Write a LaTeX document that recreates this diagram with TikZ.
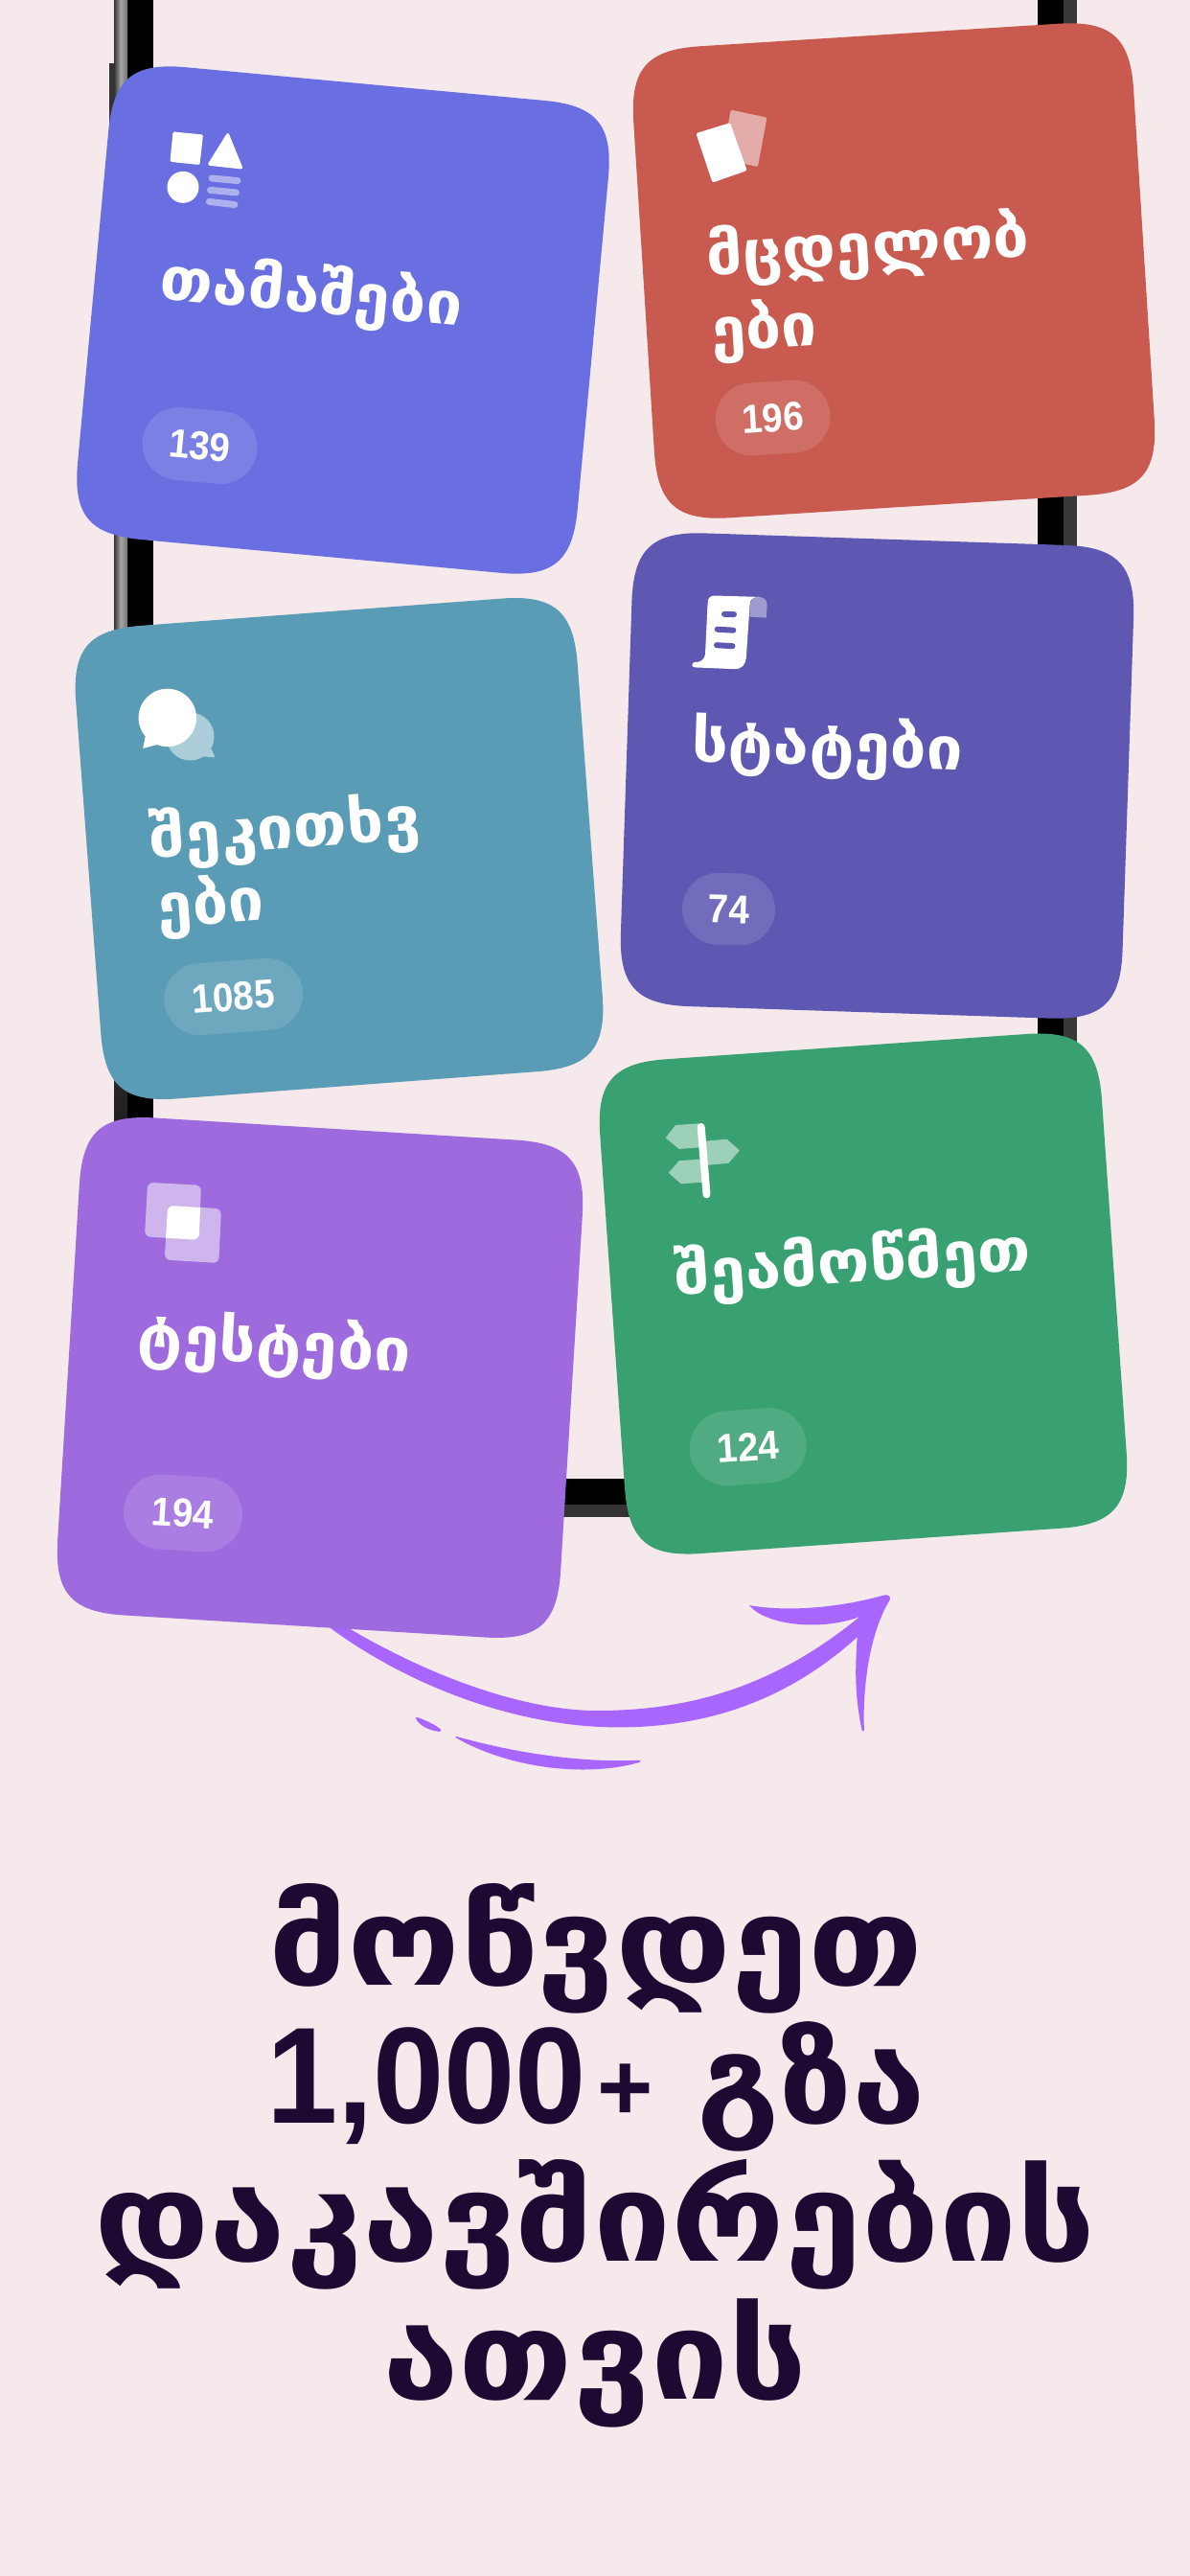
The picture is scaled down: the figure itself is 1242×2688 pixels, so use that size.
\documentclass[tikz,border=0pt]{standalone}
\usepackage{graphicx}
\usepackage{fontspec}
\newfontfamily\geof{DejaVu Sans}
\newfontfamily\numf{Liberation Sans}
\definecolor{bgc}{HTML}{F5E9EC}
\definecolor{c1}{HTML}{696FE0}
\definecolor{c2}{HTML}{C85A50}
\definecolor{c3}{HTML}{5A9CB5}
\definecolor{c4}{HTML}{5E58B3}
\definecolor{c5}{HTML}{9D6BDE}
\definecolor{c6}{HTML}{39A071}
\definecolor{titlec}{HTML}{1D0A33}
\definecolor{arrowc}{HTML}{A966FF}
\newcommand\fitw[2]{\resizebox{#1pt}{\height}{#2}}
% card: cx cy w h angle colour
\newcommand\card[6]{%
  \begin{scope}[shift={(#1,#2)},rotate=#5]
    \pgfmathsetmacro\hw{#3/2}\pgfmathsetmacro\hh{#4/2}
    \pgfmathsetmacro\dd{74}\pgfmathsetmacro\kk{19}
    \fill[#6] (-\hw+\dd,-\hh) -- (\hw-\dd,-\hh)
      .. controls (\hw-\kk,-\hh) and (\hw,-\hh+\kk) .. (\hw,-\hh+\dd)
      -- (\hw,\hh-\dd)
      .. controls (\hw,\hh-\kk) and (\hw-\kk,\hh) .. (\hw-\dd,\hh)
      -- (-\hw+\dd,\hh)
      .. controls (-\hw+\kk,\hh) and (-\hw,\hh-\kk) .. (-\hw,\hh-\dd)
      -- (-\hw,-\hh+\dd)
      .. controls (-\hw,-\hh+\kk) and (-\hw+\kk,-\hh) .. (-\hw+\dd,-\hh) -- cycle;
  \end{scope}}
% pill: name cx cy w h angle colour text
\newcommand\pill[8]{%
  \begin{scope}[shift={(#2,#3)},rotate=#6]
    \pgfmathsetmacro\hw{#4/2}\pgfmathsetmacro\hh{#5/2}
    \fill[#7,rounded corners=\hh pt] (-\hw,-\hh) rectangle (\hw,\hh);
  \end{scope}
  \node[numlabel,rotate=#6] (#1) at (#2,#3) {\scalebox{.92}[1]{#8}};}
\tikzset{
  numlabel/.style={text=white,inner sep=0pt,font=\numf\bfseries\fontsize{42}{42}\selectfont},
  cardlabel/.style={text=white,inner sep=0pt,anchor=base west,font=\geof\bfseries\fontsize{62}{62}\selectfont},
  titleline/.style={text=titlec,inner sep=0pt,anchor=base,font=\geof\bfseries\fontsize{128}{128}\selectfont},
  titlenum/.style={text=titlec,inner sep=0pt,font=\numf\bfseries\fontsize{143}{143}\selectfont},
  bar/.style={line cap=round,line width=7pt},
}
\begin{document}
\begin{tikzpicture}[x=1pt,y=-1pt]
\useasboundingbox (0,0) rectangle (1242,2688);
\fill[bgc] (0,0) rectangle (1242,2688);
% phone frame
\fill[black] (133,0) rectangle (160,1200);
\fill[left color=black!80,right color=black!55,middle color=black!35] (119,0) rectangle (133,700);
\shade[top color=black!55,bottom color=black!90] (119,700) rectangle (133,1200);
\fill[black!80] (114,66) rectangle (119,160);
\fill[black] (1083,0) rectangle (1110,1120);
\fill[black!78] (1110,0) rectangle (1124,1120);
\fill[black] (560,1543) rectangle (700,1570);
\fill[black!80] (560,1570) rectangle (700,1583);
% arrow
\fill[arrowc] (345,1687.5) .. controls (440,1746.9) and (540,1782.6) .. (615.7,1784.9)
  .. controls (720,1786.5) and (810,1758.8) .. (897.6,1686.7)
  .. controls (860,1701.8) and (800,1697) .. (781.9,1675)
  .. controls (825,1682.8) and (880,1676.4) .. (920.8,1665)
  .. controls (926,1663) and (931,1665.3) .. (928.4,1670)
  .. controls (908,1703.4) and (900,1758.8) .. (901.9,1806)
  -- (899.8,1806)
  .. controls (891,1766.7) and (893,1735) .. (894.7,1708.3)
  .. controls (830,1766.7) and (750,1802.4) .. (645.1,1802.4)
  .. controls (540,1802.4) and (420,1758.8) .. (330,1687.5) -- cycle;
\fill[arrowc] (434.7,1791.7) .. controls (445,1795.2) and (455,1800) .. (460.4,1805)
  -- (459,1807) .. controls (447,1805.5) and (438,1800.8) .. (434,1793.3) -- cycle;
\fill[arrowc] (475.5,1811.7) .. controls (540,1830) and (610,1839.6) .. (668.3,1836.7)
  -- (668,1838.8) .. controls (610,1855.4) and (530,1844.3) .. (476,1813.4) -- cycle;
% cards
\card{358}{334}{524}{495}{-5.3}{c1}
\card{933}{282.5}{523}{493}{3.6}{c2}
\card{354}{885.5}{525}{495}{4.3}{c3}
\card{915.5}{809.5}{524}{494}{-1.9}{c4}
\card{901}{1350}{525}{517}{4}{c6}
\card{334}{1437.5}{526}{520}{-3.5}{c5}
% blue icon
\fill[white,rounded corners=2pt] (180.5,137.4) -- (212,140.5) -- (208.5,172) -- (177.5,168.8) -- cycle;
\fill[white,rounded corners=3pt] (238,137.4) -- (254,176.7) -- (216,172.5) -- cycle;
\fill[white] (191,195.3) circle (16.5);
\draw[bar,c1!55!white] (221,186) -- (248,188.6);
\draw[bar,c1!55!white] (219.5,198.4) -- (246.4,200.9);
\draw[bar,c1!55!white] (218.4,210.4) -- (245,213.6);
% red icon
\fill[c2!50!white,rounded corners=1.5pt] (762.8,114.6) -- (800.5,122.6) -- (790.9,174) -- (753.2,166) -- cycle;
\fill[white,rounded corners=1.5pt] (726.4,139.2) -- (762,128.1) -- (779.7,177.9) -- (743.6,190.6) -- cycle;
% teal icon
\fill[c3!50!white] (198.5,768.5) circle (25);
\fill[c3!50!white] (220,780.4) -- (224.6,790.4) -- (211.2,789.3) -- cycle;
\fill[white] (174.8,748.9) circle (30.2);
\fill[white] (151.8,767.9) -- (149.2,781) -- (165.2,776.7) -- cycle;
% indigo icon
\fill[c4!60!white] (782.6,633.3) .. controls (783,625.9) and (787,622.9) .. (792.2,622.9)
  .. controls (797,623) and (800.6,626) .. (800.6,631.1) -- (799.9,644.6) -- (782.6,643.6) -- cycle;
\fill[white] (746.3,621.5) -- (792.2,622.9) .. controls (786,623) and (782.6,626) .. (782.6,630.5)
  -- (778.8,686.4) .. controls (778.5,693) and (774,698.2) .. (767.3,698.2)
  -- (725.2,696.4) .. controls (721.5,696.3) and (721.5,691.6) .. (725,691)
  .. controls (732,691.5) and (735.5,687.3) .. (736,682.8) -- (738.6,629.3)
  .. controls (738.8,624) and (741,621.5) .. (746.3,621.5) -- cycle;
\draw[line cap=round,line width=6pt,c4] (756,640.8) -- (766,641.1);
\draw[line cap=round,line width=6pt,c4] (748.7,656.7) -- (765.3,657.7);
\draw[line cap=round,line width=6pt,c4] (748,673.2) -- (764.5,674.2);
% purple icon
\fill[c5!50!white,rounded corners=6pt] (154.1,1233.8) -- (210,1236.8) -- (207.7,1293.8) -- (151,1290.4) -- cycle;
\fill[c5!50!white,rounded corners=6pt] (175.1,1257.9) -- (231,1261.3) -- (228.3,1318) -- (171.7,1314.5) -- cycle;
\begin{scope}
  \clip[rounded corners=6pt] (154.1,1233.8) -- (210,1236.8) -- (207.7,1293.8) -- (151,1290.4) -- cycle;
  \fill[white,rounded corners=6pt] (175.1,1257.9) -- (231,1261.3) -- (228.3,1318) -- (171.7,1314.5) -- cycle;
\end{scope}
% green icon
\fill[c6!50!white] (694.6,1187.4) -- (705,1174) -- (732.9,1172.1) -- (734.8,1197) -- (708.8,1198.9) -- cycle;
\fill[c6!50!white] (734,1190.9) -- (758.5,1188.6) -- (771.9,1200.4) -- (760.4,1213.8) -- (734.8,1216.1) -- cycle;
\fill[c6!50!white] (697.7,1223.8) -- (708.8,1211.2) -- (734.8,1209.3) -- (736.7,1233.4) -- (710.7,1235.3) -- cycle;
\draw[white,line cap=round,line width=8pt] (731.7,1176) -- (737.5,1246.4);
% card labels
\node[cardlabel,rotate=-5.3] (t1) at (165,311) {\fitw{317}{თამაშები}};
\node[cardlabel,rotate=3.6] (t2a) at (738,288) {\fitw{338}{მცდელობ}};
\node[cardlabel,rotate=3.6] (t2b) at (743,367) {\fitw{111}{ები}};
\node[cardlabel,rotate=4.3] (t3a) at (157,896) {\fitw{284}{შეკითხვ}};
\node[cardlabel,rotate=4.3] (t3b) at (165,968) {\fitw{112}{ები}};
\node[cardlabel,rotate=-1.9] (t4) at (721,794) {\fitw{284}{სტატები}};
\node[cardlabel,rotate=-3.5] (t5) at (142.5,1414.4) {\fitw{286}{ტესტები}};
\node[cardlabel,rotate=4] (t6) at (705,1351) {\fitw{373}{შეამოწმეთ}};
% pills
\pill{n1}{208.5}{465}{120}{76}{-5.3}{c1!88!white}{139}
\pill{n2}{806.6}{436}{120}{76}{3.6}{c2!88!white}{196}
\pill{n3}{243.7}{1040}{145}{75}{4.3}{c3!88!white}{1085}
\pill{n4}{760.5}{948.6}{97}{75}{-1.9}{c4!88!white}{74}
\pill{n5}{191}{1579}{124}{78}{-3.5}{c5!88!white}{194}
\pill{n6}{780.7}{1509.7}{122}{78}{4}{c6!88!white}{124}
% title
\node[titleline] (h1) at (622,2071) {\fitw{684}{მოწვდეთ}};
\node[titlenum,anchor=base west] (h2a) at (278,2215) {\fitw{334}{1,000}};
\node[titlenum,anchor=base,font=\numf\bfseries\fontsize{100}{100}\selectfont] (h2p) at (653,2212) {+};
\node[titleline,anchor=base west] (h2b) at (727,2215) {\fitw{239}{გზა}};
\node[titleline] (h3) at (621,2359.4) {\fitw{1046}{დაკავშირების}};
\node[titleline] (h4) at (621,2503) {\fitw{444}{ათვის}};
\end{tikzpicture}
\end{document}
